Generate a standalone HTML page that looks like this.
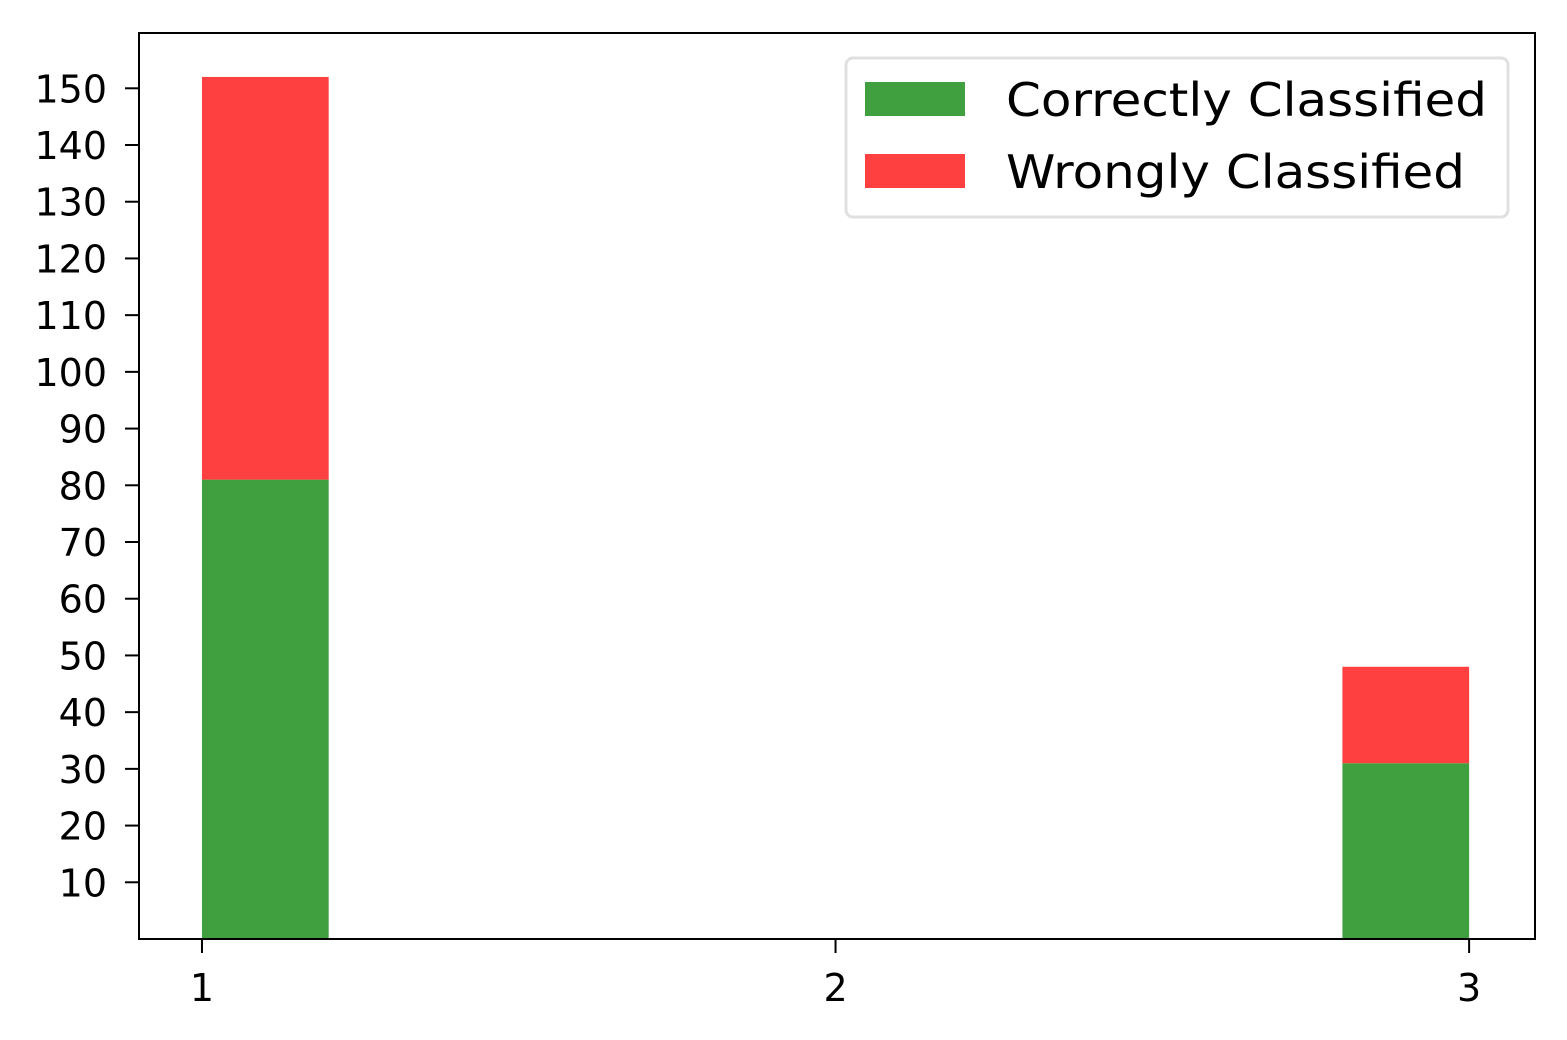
<!DOCTYPE html>
<html><head><meta charset="utf-8"><style>
html,body{margin:0;padding:0;background:#fff;}
svg{display:block;font-family:"DejaVu Sans","Liberation Sans",sans-serif;}
</style></head><body>
<svg id="chart" width="1567" height="1040"></svg>
<script>
const binEdges = [1.0,1.2,1.4,1.6,1.8,2.0,2.2,2.4,2.6,2.8,3.0];
const correctCounts = [81,0,0,0,0,0,0,0,0,31];
const wrongCounts = [71,0,0,0,0,0,0,0,0,17];
const yTicks = [10,20,30,40,50,60,70,80,90,100,110,120,130,140,150];
const xTicks = [1,2,3];
const seriesNames = ["Correctly Classified","Wrongly Classified"];

const L=139,R=1535,T=33,B=939;
const xmin=0.9006,xmax=3.104,ymin=0,ymax=159.75;
const sx=v=>L+(v-xmin)/(xmax-xmin)*(R-L);
const sy=v=>B-(v-ymin)/(ymax-ymin)*(B-T);
const NS="http://www.w3.org/2000/svg";
const svg=document.getElementById('chart');
function mk(tag,attrs,parent){const e=document.createElementNS(NS,tag);for(const k in attrs)e.setAttribute(k,attrs[k]);(parent||svg).appendChild(e);return e;}

for(let i=0;i<correctCounts.length;i++){
  const x0=sx(binEdges[i]),x1=sx(binEdges[i+1]);
  if(correctCounts[i]>0){
    const r=mk('rect',{x:x0,y:sy(correctCounts[i]),width:x1-x0,height:sy(0)-sy(correctCounts[i]),fill:'#40a040'});
    
    
  }
  if(wrongCounts[i]>0){
    const top=correctCounts[i]+wrongCounts[i];
    const r=mk('rect',{x:x0,y:sy(top),width:x1-x0,height:sy(correctCounts[i])-sy(top),fill:'#ff4040'});
    
    
  }
}
const frame=mk('rect',{x:L,y:T,width:R-L,height:B-T,fill:'none',stroke:'#000','stroke-width':2});



yTicks.forEach(v=>{
  const y=sy(v);
  const t=mk('line',{x1:L-14,x2:L,y1:y,y2:y,stroke:'#000','stroke-width':2});
  
  
  const tx=mk('text',{x:L-32,y:y+14,'text-anchor':'end','font-size':38,fill:'#000'});
  tx.textContent=v;
  
  
});
xTicks.forEach(v=>{
  const x=sx(v);
  const t=mk('line',{x1:x,x2:x,y1:B,y2:B+14,stroke:'#000','stroke-width':2});
  
  
  const tx=mk('text',{x:x,y:B+62,'text-anchor':'middle','font-size':38,fill:'#000'});
  tx.textContent=v;
  
  
});

const lg=mk('g',{});


mk('rect',{x:846,y:58,width:662,height:159,rx:7,fill:'#fff','fill-opacity':0.8,stroke:'#e0e0e0','stroke-width':3},lg);
const cols=['#40a040','#ff4040'];
const lens=[481,459];
seriesNames.forEach((n,i)=>{
  const p=mk('rect',{x:865,y:82+i*72,width:100,height:34,fill:cols[i]},lg);
  
  
  const tx=mk('text',{x:1006,y:116+i*72,'font-size':46,fill:'#000',textLength:lens[i],lengthAdjust:'spacingAndGlyphs'},lg);
  tx.textContent=n;
  
  
});
</script>
</body></html>
